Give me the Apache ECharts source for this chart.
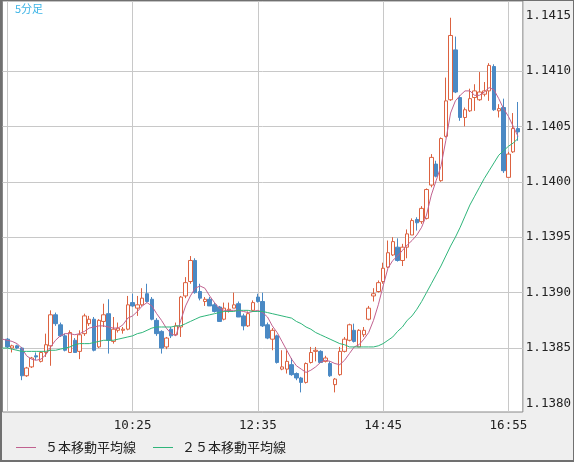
<!DOCTYPE html>
<html>
<head>
<meta charset="utf-8">
<title>5分足</title>
<script src="https://cdn.jsdelivr.net/npm/echarts@6.0.0/dist/echarts.min.js"></script>
<style>
  html, body { margin: 0; padding: 0; background: #efefef; }
  #main { width: 574px; height: 462px; }
</style>
</head>
<body>
<div id="main"></div>
<script>
// 5分足の時刻 (8:10 から 17:10 まで)
var categories = [];
for (var i = 0; i < 109; i++) {
  var m = 8 * 60 + 10 + 5 * i;
  categories.push(Math.floor(m / 60) + ':' + ('0' + (m % 60)).slice(-2));
}

var gridTimes = ['8:15', '10:25', '12:35', '14:45', '16:55'];
var xLabels = ['10:25', '12:35', '14:45', '16:55'];
var yLabels = ['1.1380', '1.1385', '1.1390', '1.1395', '1.1400', '1.1405', '1.1410', '1.1415'];
var maNames = ['５本移動平均線', '２５本移動平均線'];

var opens = [null,
  1.13858, 1.13850, 1.13852, 1.13850, 1.13825, 1.13833, 1.13843, 1.13838, 1.13846, 1.13852,
  1.13880, 1.13871, 1.13861, 1.13846, 1.13857, 1.13847, 1.13863, 1.13872, 1.13876, 1.13851,
  1.13874, 1.13881, 1.13856, 1.13866, 1.13866, 1.13867, 1.13891, 1.13886, 1.13889, 1.13899,
  1.13894, 1.13875, 1.13865, 1.13851, 1.13867, 1.13862, 1.13869, 1.13897, 1.13910, 1.13929,
  1.13901, 1.13892, 1.13894, 1.13889, 1.13887, 1.13876, 1.13884, 1.13886, 1.13890, 1.13879,
  1.13870, 1.13884, 1.13896, 1.13892, 1.13871, 1.13858, 1.13861, 1.13831, 1.13831, 1.13835,
  1.13827, 1.13823, 1.13819, 1.13837, 1.13847, 1.13847, 1.13838, 1.13836, 1.13817, 1.13826,
  1.13847, 1.13857, 1.13866, 1.13851, 1.13862, 1.13876, 1.13897, 1.13901, 1.13910, 1.13923,
  1.13934, 1.13941, 1.13929, 1.13941, 1.13952, 1.13966, 1.13964, 1.13967, 1.13997, 1.14016,
  1.14001, 1.14041, 1.14074, 1.14119, 1.14076, 1.14058, 1.14064, 1.14076, 1.14074, 1.14079,
  1.14082, 1.14104, 1.14064, 1.14067, 1.14004, 1.14027, 1.14048,
  null];

var closes = [null,
  1.13851, 1.13852, 1.13850, 1.13825, 1.13832, 1.13841, 1.13842, 1.13846, 1.13853, 1.13880,
  1.13872, 1.13861, 1.13848, 1.13864, 1.13846, 1.13862, 1.13879, 1.13876, 1.13848, 1.13875,
  1.13880, 1.13857, 1.13867, 1.13868, 1.13867, 1.13889, 1.13888, 1.13889, 1.13895, 1.13892,
  1.13876, 1.13863, 1.13850, 1.13859, 1.13861, 1.13870, 1.13896, 1.13909, 1.13929, 1.13900,
  1.13895, 1.13894, 1.13888, 1.13883, 1.13874, 1.13886, 1.13885, 1.13889, 1.13878, 1.13870,
  1.13881, 1.13891, 1.13892, 1.13870, 1.13859, 1.13866, 1.13837, 1.13833, 1.13838, 1.13826,
  1.13823, 1.13819, 1.13836, 1.13846, 1.13848, 1.13837, 1.13841, 1.13825, 1.13822, 1.13847,
  1.13858, 1.13871, 1.13856, 1.13866, 1.13866, 1.13886, 1.13899, 1.13909, 1.13922, 1.13936,
  1.13946, 1.13929, 1.13941, 1.13953, 1.13965, 1.13963, 1.13976, 1.13993, 1.14022, 1.14005,
  1.14039, 1.14073, 1.14132, 1.14081, 1.14058, 1.14065, 1.14075, 1.14082, 1.14081, 1.14082,
  1.14105, 1.14065, 1.14066, 1.14010, 1.14025, 1.14048, 1.14045,
  null];

var lows = [null,
  1.13850, 1.13846, 1.13849, 1.13821, 1.13824, 1.13832, 1.13839, 1.13837, 1.13842, 1.13834,
  1.13870, 1.13860, 1.13847, 1.13846, 1.13846, 1.13840, 1.13861, 1.13870, 1.13847, 1.13850,
  1.13869, 1.13845, 1.13854, 1.13864, 1.13863, 1.13866, 1.13887, 1.13879, 1.13888, 1.13891,
  1.13875, 1.13861, 1.13845, 1.13849, 1.13859, 1.13861, 1.13860, 1.13895, 1.13908, 1.13899,
  1.13893, 1.13888, 1.13888, 1.13882, 1.13874, 1.13875, 1.13882, 1.13886, 1.13878, 1.13866,
  1.13869, 1.13883, 1.13891, 1.13869, 1.13858, 1.13848, 1.13836, 1.13830, 1.13827, 1.13825,
  1.13821, 1.13810, 1.13818, 1.13836, 1.13838, 1.13837, 1.13837, 1.13824, 1.13810, 1.13825,
  1.13846, 1.13856, 1.13855, 1.13851, 1.13860, 1.13875, 1.13892, 1.13900, 1.13908, 1.13922,
  1.13933, 1.13928, 1.13924, 1.13931, 1.13952, 1.13956, 1.13962, 1.13966, 1.13995, 1.14004,
  1.14000, 1.14040, 1.14073, 1.14080, 1.14055, 1.14050, 1.14063, 1.14064, 1.14073, 1.14077,
  1.14073, 1.14064, 1.14058, 1.14008, 1.14004, 1.14026, 1.14037,
  null];

var highs = [null,
  1.13859, 1.13853, 1.13853, 1.13851, 1.13833, 1.13842, 1.13846, 1.13847, 1.13863, 1.13884,
  1.13882, 1.13873, 1.13863, 1.13866, 1.13859, 1.13866, 1.13881, 1.13879, 1.13878, 1.13876,
  1.13890, 1.13894, 1.13878, 1.13873, 1.13869, 1.13897, 1.13899, 1.13897, 1.13904, 1.13908,
  1.13896, 1.13877, 1.13866, 1.13860, 1.13869, 1.13873, 1.13897, 1.13914, 1.13933, 1.13931,
  1.13908, 1.13896, 1.13896, 1.13891, 1.13888, 1.13891, 1.13891, 1.13900, 1.13892, 1.13881,
  1.13883, 1.13893, 1.13899, 1.13900, 1.13873, 1.13868, 1.13862, 1.13848, 1.13848, 1.13841,
  1.13828, 1.13824, 1.13837, 1.13851, 1.13851, 1.13848, 1.13843, 1.13838, 1.13823, 1.13851,
  1.13860, 1.13872, 1.13872, 1.13867, 1.13869, 1.13888, 1.13904, 1.13911, 1.13927, 1.13947,
  1.13950, 1.13949, 1.13944, 1.13957, 1.13967, 1.13968, 1.13978, 1.13994, 1.14025, 1.14019,
  1.14040, 1.14094, 1.14148, 1.14131, 1.14078, 1.14067, 1.14084, 1.14088, 1.14099, 1.14090,
  1.14107, 1.14106, 1.14070, 1.14075, 1.14027, 1.14062, 1.14072,
  null];

// 移動平均線 (チャートから読み取り)
var ma5 = [
  1.13858, 1.13857, 1.13856, 1.13854, 1.13850, 1.13843, 1.13840, 1.13839, 1.13840, 1.13844,
  1.13851, 1.13857, 1.13861, 1.13863, 1.13863, 1.13862, 1.13863, 1.13865, 1.13868, 1.13869,
  1.13870, 1.13870, 1.13869, 1.13868, 1.13868, 1.13871, 1.13877, 1.13879, 1.13883, 1.13888,
  1.13891, 1.13888, 1.13881, 1.13875, 1.13868, 1.13863, 1.13861, 1.13875, 1.13888, 1.13897,
  1.13904, 1.13906, 1.13904, 1.13897, 1.13891, 1.13886, 1.13884, 1.13884, 1.13884, 1.13884,
  1.13883, 1.13882, 1.13883, 1.13884, 1.13882, 1.13878, 1.13870, 1.13864, 1.13856, 1.13848,
  1.13840, 1.13834, 1.13831, 1.13828, 1.13830, 1.13833, 1.13837, 1.13839, 1.13838, 1.13836,
  1.13835, 1.13839, 1.13845, 1.13851, 1.13853, 1.13858, 1.13864, 1.13875, 1.13889, 1.13906,
  1.13922, 1.13929, 1.13933, 1.13938, 1.13943, 1.13947, 1.13952, 1.13959, 1.13970, 1.13988,
  1.14001, 1.14014, 1.14037, 1.14062, 1.14073, 1.14078, 1.14082, 1.14082, 1.14078, 1.14078,
  1.14081, 1.14085, 1.14083, 1.14075, 1.14066, 1.14059, 1.14050, 1.14041,
  null];

var ma25 = [
  1.13850, 1.13850, 1.13849, 1.13848, 1.13847, 1.13847, 1.13847, 1.13847, 1.13847, 1.13847,
  1.13848, 1.13848, 1.13849, 1.13850, 1.13851, 1.13853, 1.13854, 1.13854, 1.13854, 1.13855,
  1.13856, 1.13857, 1.13857, 1.13857, 1.13858, 1.13859, 1.13860, 1.13861, 1.13863, 1.13864,
  1.13866, 1.13868, 1.13869, 1.13869, 1.13869, 1.13869, 1.13870, 1.13870, 1.13872, 1.13874,
  1.13876, 1.13878, 1.13879, 1.13880, 1.13881, 1.13882, 1.13883, 1.13883, 1.13883, 1.13884,
  1.13884, 1.13884, 1.13883, 1.13883, 1.13883, 1.13882, 1.13881, 1.13880, 1.13879, 1.13878,
  1.13877, 1.13874, 1.13872, 1.13869, 1.13867, 1.13864, 1.13862, 1.13860, 1.13858, 1.13856,
  1.13854, 1.13853, 1.13851, 1.13851, 1.13851, 1.13851, 1.13851, 1.13851, 1.13852, 1.13854,
  1.13857, 1.13860, 1.13865, 1.13869, 1.13875, 1.13879, 1.13885, 1.13892, 1.13900, 1.13908,
  1.13916, 1.13924, 1.13933, 1.13942, 1.13950, 1.13959, 1.13969, 1.13979, 1.13987, 1.13995,
  1.14003, 1.14010, 1.14017, 1.14024, 1.14028, 1.14032, 1.14035, 1.14039,
  null];

var candles = opens.map(function (o, i) {
  if (o == null) return ['-', '-', '-', '-'];
  return [o, closes[i], lows[i], highs[i]];
});

var chart = echarts.init(document.getElementById('main'));

var upColor = '#dc6240';
var downColor = '#4a89c4';
var frameColor = '#707070';
var gridLineColor = '#c8c8c8';

var option = {
  animation: false,
  backgroundColor: '#efefef',
  title: {
    text: '5分足',
    left: 15,
    top: 3,
    padding: 0,
    textStyle: { color: '#3cb4e6', fontSize: 11, fontWeight: 'normal', fontFamily: 'Noto Sans CJK JP' }
  },
  legend: {
    left: 16,
    top: 441,
    padding: 0,
    icon: 'rect',
    itemWidth: 20,
    itemHeight: 1,
    itemGap: 17,
    textStyle: { fontSize: 13, color: '#222', fontFamily: 'Noto Sans CJK JP', padding: [0, 0, 0, 4] },
    data: maNames
  },
  grid: {
    left: 2.5,
    right: 50,
    top: 1,
    bottom: 50,
    show: true,
    backgroundColor: '#fff',
    borderColor: '#888',
    borderWidth: 1
  },
  xAxis: {
    type: 'category',
    data: categories,
    boundaryGap: false,
    axisLine: { show: false },
    axisTick: { show: false },
    axisLabel: {
      interval: function (idx, val) { return xLabels.indexOf(val) >= 0; },
      color: '#222',
      fontFamily: 'DejaVu Sans Mono',
      fontSize: 12.5,
      margin: 7
    },
    splitLine: {
      show: true,
      interval: function (idx, val) { return gridTimes.indexOf(val) >= 0; },
      lineStyle: { color: gridLineColor, width: 1 }
    }
  },
  yAxis: {
    type: 'value',
    position: 'right',
    min: 1.137923,
    max: 1.141631,
    splitNumber: 7,
    axisLine: { show: false },
    axisTick: { show: false, customValues: yLabels.map(Number) },
    splitLine: {
      show: true,
      showMinLine: false,
      showMaxLine: false,
      lineStyle: { color: gridLineColor, width: 1 }
    },
    axisLabel: {
      customValues: yLabels.map(Number),
      formatter: function (v) { return v.toFixed(4); },
      color: '#222',
      fontFamily: 'DejaVu Sans Mono',
      fontSize: 12.5,
      margin: 3
    }
  },
  graphic: [
    { type: 'rect', shape: { x: 0, y: 0, width: 2, height: 462 }, style: { fill: frameColor }, z: 100 },
    { type: 'rect', shape: { x: 0, y: 0, width: 574, height: 1 }, style: { fill: frameColor }, z: 100 },
    { type: 'rect', shape: { x: 0, y: 460, width: 574, height: 2 }, style: { fill: frameColor }, z: 100 },
    { type: 'rect', shape: { x: 573, y: 0, width: 1, height: 462 }, style: { fill: frameColor }, z: 100 }
  ],
  series: [
    {
      name: '5分足',
      type: 'candlestick',
      data: candles,
      barWidth: 4,
      z: 3,
      itemStyle: {
        color: '#fff',
        color0: downColor,
        borderColor: upColor,
        borderColor0: downColor,
        borderWidth: 1
      }
    },
    {
      name: maNames[0],
      type: 'line',
      data: ma5,
      symbol: 'none',
      z: 4,
      itemStyle: { color: '#c0618f' },
      lineStyle: { color: '#c0618f', width: 1 }
    },
    {
      name: maNames[1],
      type: 'line',
      data: ma25,
      symbol: 'none',
      z: 4,
      itemStyle: { color: '#2fb57a' },
      lineStyle: { color: '#2fb57a', width: 1 }
    }
  ]
};

chart.setOption(option);
</script>
</body>
</html>
